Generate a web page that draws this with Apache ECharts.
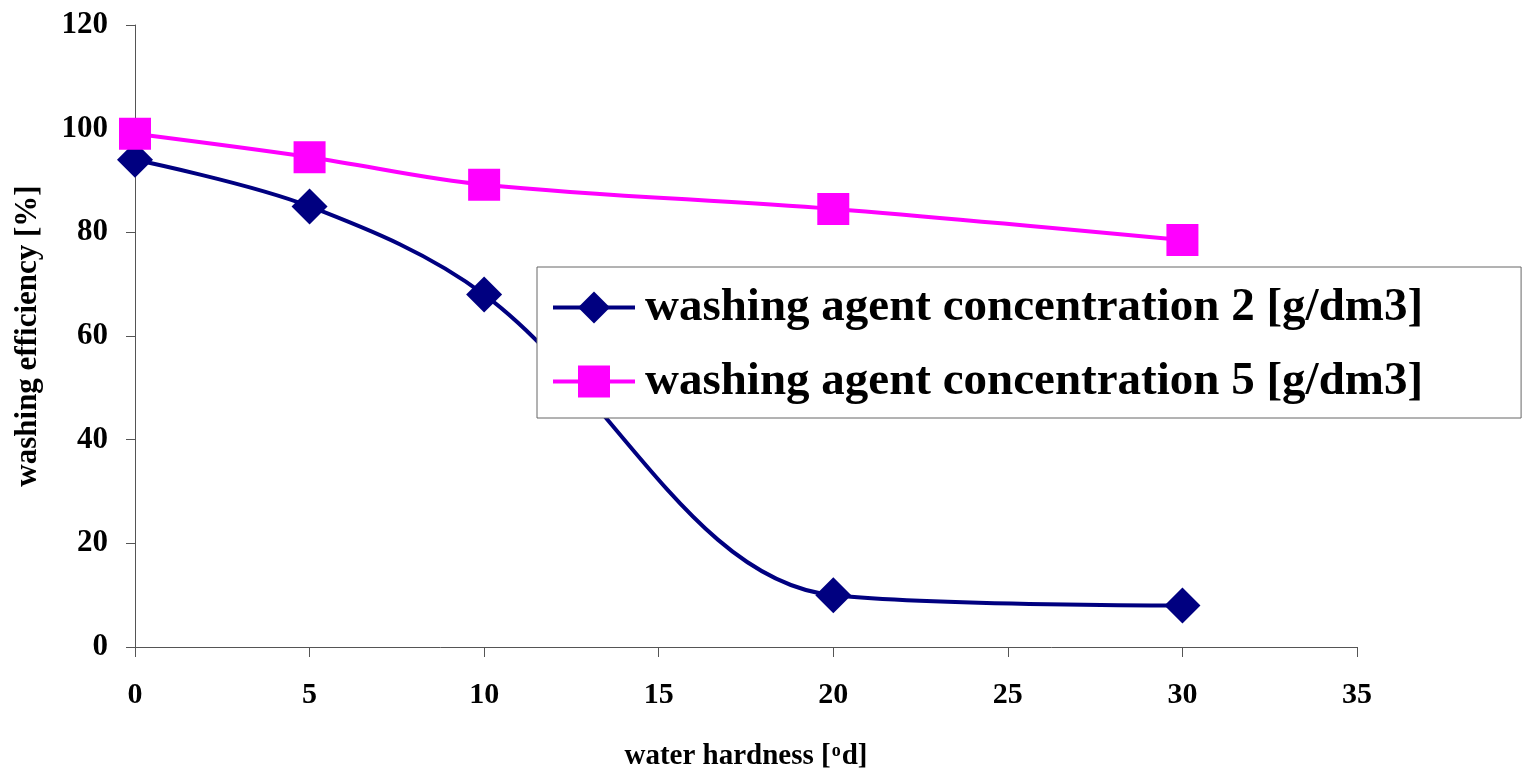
<!DOCTYPE html>
<html><head><meta charset="utf-8">
<script src="https://cdn.jsdelivr.net/npm/echarts@6/dist/echarts.min.js"></script>
<style>html,body{margin:0;padding:0;background:#fff;overflow:hidden}#c{width:1523px;height:773px}</style>
</head><body><div id="c"></div>
<script>
const xValues = [0, 5, 10, 20, 30];
const conc2 = [94, 85, 68, 10, 8];
const conc5 = [99, 94.5, 89.2, 84.5, 78.5];
const seriesNames = ['washing agent concentration 2 [g/dm3]', 'washing agent concentration 5 [g/dm3]'];
const xTicks = {min: 0, max: 35, interval: 5};
const yTicks = {min: 0, max: 120, interval: 20};

const font = '"Liberation Serif", "Times New Roman", serif';
const chart = echarts.init(document.getElementById('c'), null, {renderer: 'canvas'});
const axisStyle = {lineStyle: {color: '#555', width: 1}};
chart.setOption({
  animation: false,
  backgroundColor: '#fff',
  grid: {left: 135, right: 166, top: 25, bottom: 126, containLabel: false, outerBoundsMode: 'none'},
  legend: {
    left: 537, top: 267,
    orient: 'vertical',
    padding: [17, 98, 13, 14],
    itemGap: 27,
    itemWidth: 82, itemHeight: 40,
    borderColor: '#666', borderWidth: 1,
    backgroundColor: '#fff',
    lineStyle: {width: 4},
    textStyle: {fontFamily: font, fontWeight: 'bold', fontSize: 47, color: '#000', padding: [0, 0, 0, 5]},
    data: seriesNames
  },
  xAxis: {
    type: 'value', min: xTicks.min, max: xTicks.max, interval: xTicks.interval,
    axisLine: axisStyle, axisTick: {length: 10, lineStyle: {color: '#555'}},
    splitLine: {show: false},
    axisLabel: {margin: 33, fontFamily: font, fontWeight: 'bold', fontSize: 30, color: '#000'},
    name: '{a|water hardness [}{s|o}{a|d]}',
    nameLocation: 'middle', nameGap: 95,
    nameTextStyle: {
      rich: {
        a: {fontFamily: font, fontWeight: 'bold', fontSize: 29, color: '#000'},
        s: {fontFamily: font, fontWeight: 'bold', fontSize: 18, color: '#000', verticalAlign: 'top', padding: [0, 1, 12, 1]}
      }
    }
  },
  yAxis: {
    type: 'value', min: yTicks.min, max: yTicks.max, interval: yTicks.interval,
    axisLine: {show: true, lineStyle: {color: '#555', width: 1}},
    axisTick: {show: true, length: 9, lineStyle: {color: '#555'}},
    splitLine: {show: false},
    axisLabel: {margin: 27, fontFamily: font, fontWeight: 'bold', fontSize: 31, color: '#000'},
    name: 'washing efficiency [%]',
    nameLocation: 'middle', nameGap: 92, nameRotate: 90,
    nameTextStyle: {fontFamily: font, fontWeight: 'bold', fontSize: 31, color: '#000'}
  },
  series: [
    {
      name: seriesNames[0], type: 'line', smooth: 0.35,
      data: xValues.map((x, i) => [x, conc2[i]]),
      symbol: 'diamond', symbolSize: 36,
      itemStyle: {color: '#000080'},
      lineStyle: {color: '#000080', width: 4},
      z: 2
    },
    {
      name: seriesNames[1], type: 'line', smooth: 0.35,
      data: xValues.map((x, i) => [x, conc5[i]]),
      symbol: 'rect', symbolSize: 32,
      itemStyle: {color: '#FF00FF'},
      lineStyle: {color: '#FF00FF', width: 4},
      z: 3
    }
  ]
});
</script></body></html>
